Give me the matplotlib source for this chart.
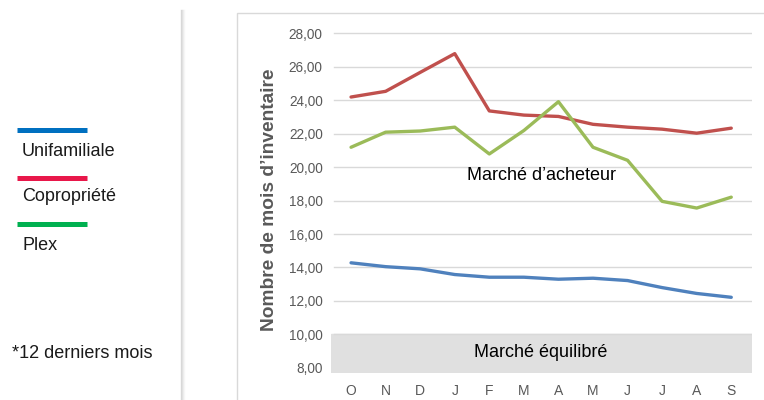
import matplotlib
matplotlib.use('Agg')
import matplotlib.pyplot as plt
from matplotlib.patches import Rectangle
from matplotlib.lines import Line2D

months = ['O', 'N', 'D', 'J', 'F', 'M', 'A', 'M', 'J', 'J', 'A', 'S']
unifamiliale = [14.28, 14.05, 13.92, 13.58, 13.42, 13.42, 13.30, 13.36, 13.22, 12.80, 12.45, 12.22]
copropriete = [24.18, 24.52, 25.65, 26.77, 23.35, 23.10, 23.02, 22.55, 22.38, 22.26, 22.02, 22.32]
plex = [21.18, 22.08, 22.15, 22.38, 20.78, 22.18, 23.90, 21.18, 20.40, 17.95, 17.55, 18.20]
yticks = [8, 10, 12, 14, 16, 18, 20, 22, 24, 26, 28]

legend_names = ['Unifamiliale', 'Copropriété', 'Plex']
legend_colors = ['#0070C0', '#E8174A', '#00B050']

fig = plt.figure(figsize=(7.64, 4.0), dpi=100)

# outer chart frame and left shadow
fig.patches.append(Rectangle((237 / 764, -0.01), 0.7, (400 - 13) / 400 + 0.01,
                             transform=fig.transFigure, fill=False,
                             edgecolor='#D9D9D9', lw=1.0))
for i, a in enumerate([0.35, 0.22, 0.12, 0.06]):
    fig.add_artist(Line2D([(181 + i) / 764] * 2, [0, (400 - 10) / 400],
                          transform=fig.transFigure, color='#9a9a9a', alpha=a, lw=1.0))

ax = fig.add_axes([331 / 764, 27 / 400, 421 / 764, 350 / 400])
x = list(range(len(months)))

ax.axhspan(7.7, 10, color='#E0E0E0', zorder=0)
for v in yticks[1:]:
    ax.axhline(v, xmin=0.006, color='#D9D9D9', lw=1.0, zorder=0.5)

ax.plot(x, unifamiliale, color='#4F81BD', lw=2.4, solid_capstyle='round', zorder=3)
ax.plot(x, copropriete, color='#C0504D', lw=2.4, solid_capstyle='round', zorder=3)
ax.plot(x, plex, color='#9BBB59', lw=2.4, solid_capstyle='round', zorder=3)

ax.set_xlim(-0.58, 11.6)
ax.set_ylim(7.7, 28.6)
ax.set_xticks(x)
ax.set_xticklabels(months, fontsize=10, color='#595959', family='Liberation Sans')
ax.set_yticks(yticks)
ax.set_yticklabels([f'{v:.2f}'.replace('.', ',') for v in yticks],
                   fontsize=9.8, color='#595959', family='Liberation Sans')
ax.tick_params(length=0, pad=6)
ax.tick_params(axis='x', pad=8)
for s in ax.spines.values():
    s.set_visible(False)

ax.text(5.5, 19.5, 'Marché d\u2019acheteur', ha='center', va='center',
        fontsize=13, family='Liberation Sans', color='black', zorder=4)
ax.text(5.5, 8.95, 'Marché équilibré', ha='center', va='center',
        fontsize=13, family='Liberation Sans', color='black', zorder=4)

fig.text(269 / 764, 200 / 400, 'Nombre de mois d\u2019inventaire', rotation=90,
         ha='center', va='center', fontsize=13.8, fontweight='bold',
         color='#595959', family='Liberation Sans')

# legend on the left
line_y = [130, 178, 224]
label_y = [152, 197, 245]
for name, col, ly, ty in zip(legend_names, legend_colors, line_y, label_y):
    fig.add_artist(Line2D([17 / 764, 87 / 764], [1 - ly / 400] * 2,
                          transform=fig.transFigure, color=col, lw=3.6,
                          solid_capstyle='butt'))
    fig.text(22 / 764, 1 - ty / 400, name, ha='left', va='center',
             fontsize=13, family='Liberation Sans', color='#1a1a1a')

fig.text(12 / 764, 1 - 353 / 400, '*12 derniers mois', ha='left', va='center',
         fontsize=13, family='Liberation Sans', color='#1a1a1a')

fig.savefig('out.png', dpi=100)
